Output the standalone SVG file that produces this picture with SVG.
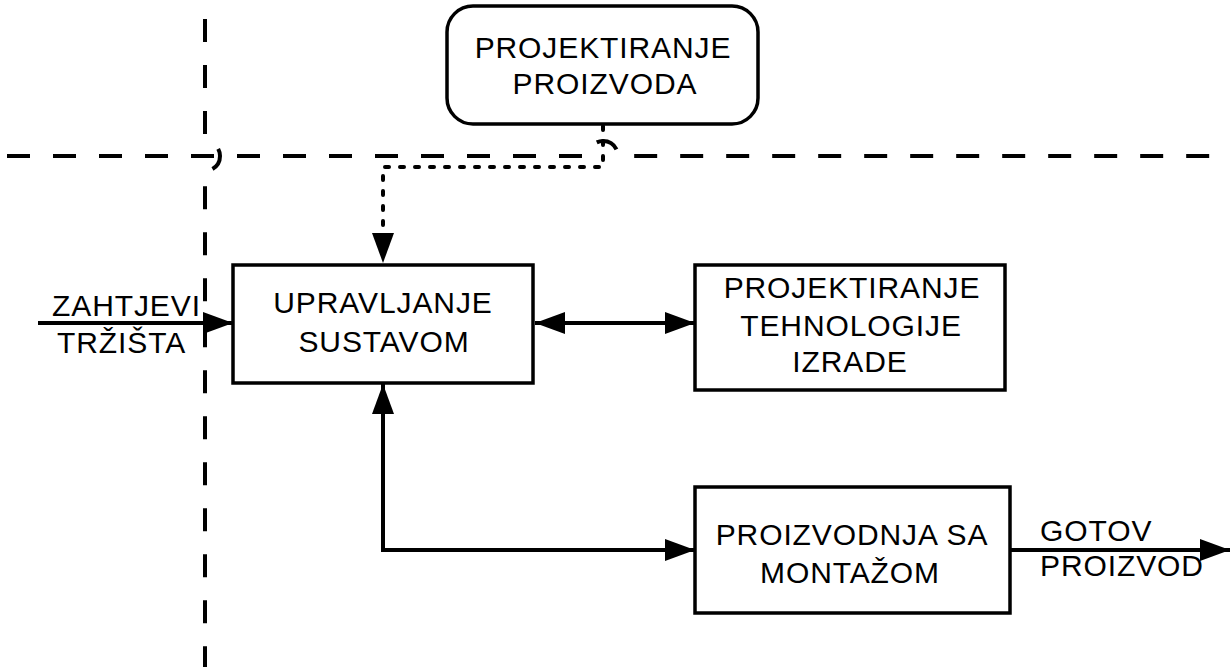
<svg xmlns="http://www.w3.org/2000/svg" width="1231" height="667" viewBox="0 0 1231 667">
  <style>
    .box { fill: #ffffff; stroke: #000000; stroke-width: 3.5; }
    .lbl { font-family: "Liberation Sans", Arial, sans-serif; font-size: 30px; letter-spacing: 0.9px; fill: #000000; }
    .mid { text-anchor: middle; }
    .line { fill: none; stroke: #000000; stroke-width: 4; }
    .bound { fill: none; stroke: #000000; stroke-width: 4; stroke-dasharray: 23 23; }
    .dot { fill: none; stroke: #000000; stroke-width: 4; stroke-linecap: round; stroke-dasharray: 4 11; }
  </style>
  <defs>
    <marker id="head" viewBox="0 0 30 22" refX="30" refY="11" markerWidth="30" markerHeight="22" markerUnits="userSpaceOnUse" orient="auto-start-reverse">
      <path d="M0,0 L30,11 L0,22 Z" fill="#000000"/>
    </marker>
  </defs>

  <!-- system boundaries (dashed), with line jumps at crossings -->
  <g id="boundaries">
    <path class="bound" d="M205,19 V141 A15,15 0 0 1 205,171 V667"/>
    <path class="bound" d="M7,156 H588 A15,15 0 0 1 618,156 H1231"/>
  </g>

  <!-- connectors -->
  <g id="connectors">
    <path class="dot" d="M603,126 V167 H383 V236"/>
    <path d="M372,233 L394,233 L383,263 Z" fill="#000000"/>
    <path class="line" d="M38,323 H233" marker-end="url(#head)"/>
    <path class="line" d="M535,323 H695" marker-start="url(#head)" marker-end="url(#head)"/>
    <path class="line" d="M383,384 V550 H695" marker-start="url(#head)" marker-end="url(#head)"/>
    <path class="line" d="M1010,550 H1230" marker-end="url(#head)"/>
  </g>

  <g id="node-projektiranje-proizvoda">
    <rect class="box" x="447" y="6" width="311" height="118" rx="26" ry="26"/>
    <text class="lbl mid" x="603" y="58">PROJEKTIRANJE</text>
    <text class="lbl mid" x="605" y="94">PROIZVODA</text>
  </g>

  <g id="node-upravljanje">
    <rect class="box" x="233" y="265" width="300" height="118"/>
    <text class="lbl mid" x="383" y="313">UPRAVLJANJE</text>
    <text class="lbl mid" x="384" y="352">SUSTAVOM</text>
  </g>

  <g id="node-tehnologija">
    <rect class="box" x="695" y="265" width="310" height="125"/>
    <text class="lbl mid" x="852" y="298">PROJEKTIRANJE</text>
    <text class="lbl mid" x="851" y="336">TEHNOLOGIJE</text>
    <text class="lbl mid" x="850" y="372">IZRADE</text>
  </g>

  <g id="node-proizvodnja">
    <rect class="box" x="695" y="487" width="315" height="126"/>
    <text class="lbl mid" x="852" y="545">PROIZVODNJA SA</text>
    <text class="lbl mid" x="850" y="583">MONTAŽOM</text>
  </g>

  <g id="label-input">
    <text class="lbl" x="52" y="316">ZAHTJEVI</text>
    <text class="lbl" x="57" y="353">TRŽIŠTA</text>
  </g>

  <g id="label-output">
    <text class="lbl" x="1040" y="541">GOTOV</text>
    <text class="lbl" x="1040" y="576">PROIZVOD</text>
  </g>
</svg>
